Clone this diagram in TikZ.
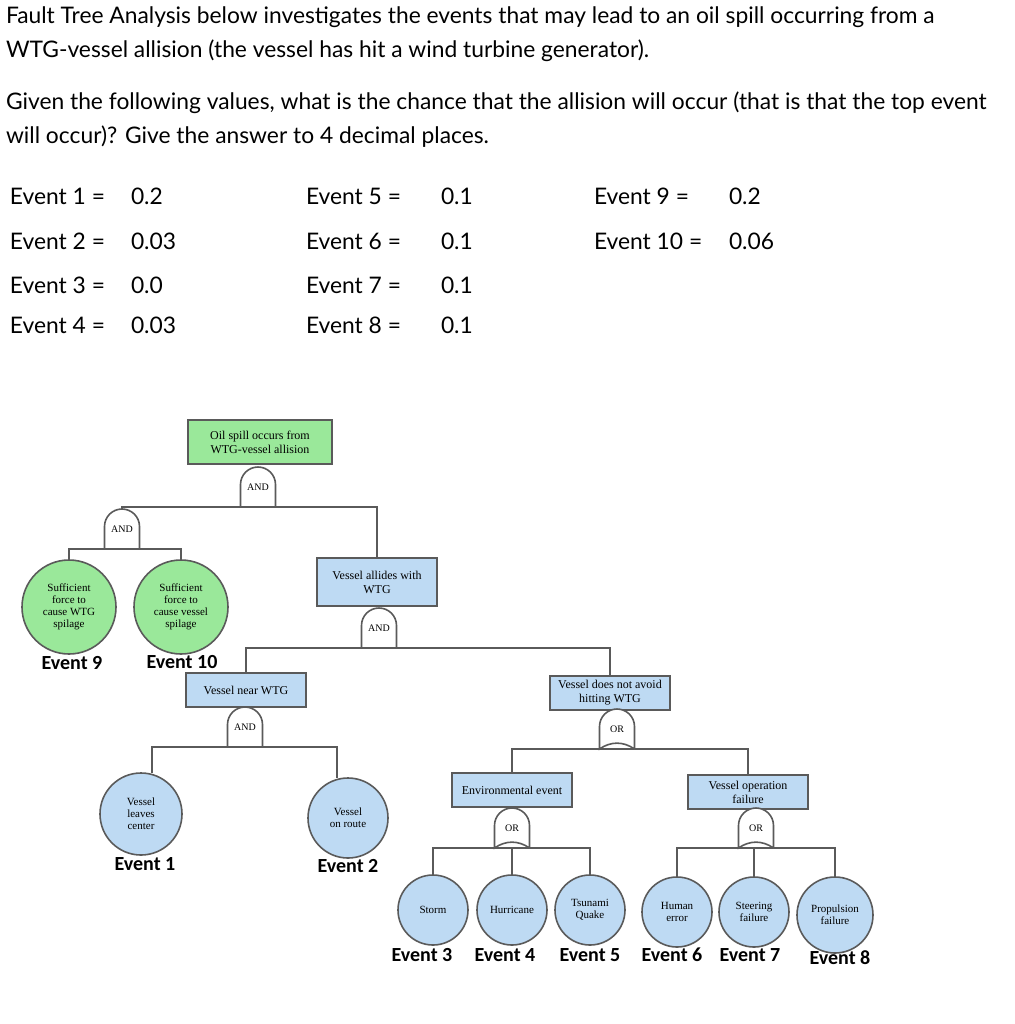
\documentclass[tikz,border=0pt]{standalone}
\usepackage{fontspec}
\setmainfont{Lato}
\newfontfamily\boxfont{Liberation Serif}
\newfontfamily\evfont{Carlito}
\usetikzlibrary{positioning}

\definecolor{boxgreen}{RGB}{154,232,154}
\definecolor{boxblue}{RGB}{190,218,243}
\definecolor{linegray}{RGB}{90,90,90}

% gate outlines around a gate node
\newcommand{\andshape}[1]{\draw[linegray,thick,fill=white] (#1.south east) -- ++(0,11.25pt) arc[start angle=0,end angle=180,radius=8.75pt] -- (#1.south west) -- cycle;}
\newcommand{\orshape}[1]{\draw[linegray,thick,fill=white] (#1.south east) -- ++(0,11.25pt) arc[start angle=0,end angle=180,radius=8.75pt] -- (#1.south west) to[bend left=35] (#1.south east);}

\begin{document}
\begin{tikzpicture}
[x=0.5pt,y=-0.5pt,
 every node/.style={inner sep=0pt,outer sep=0pt},
 evbox/.style={rectangle,draw=linegray,thick,align=center,font=\boxfont\fontsize{6}{7}\selectfont,inner sep=2pt},
 top/.style={evbox,fill=boxgreen},
 mid/.style={evbox,fill=boxblue},
 basic/.style={circle,draw=linegray,thick,align=center,font=\boxfont\fontsize{5.5}{6}\selectfont},
 gbasic/.style={basic,fill=boxgreen},
 bbasic/.style={basic,fill=boxblue},
 gate/.style={minimum width=17.5pt,minimum height=20pt,font=\boxfont\fontsize{5}{6}\selectfont},
 evlabel/.style={font=\evfont\bfseries\fontsize{10}{12}\selectfont},
 txt/.style={anchor=west,font=\fontsize{11.4}{13}\selectfont},
 conn/.style={linegray,thick}]
\useasboundingbox (0,0) rectangle (1015,1024);

% question text
\node[txt] (q1) at (6,17)  {Fault Tree Analysis below investigates the events that may lead to an oil spill occurring from a};
\node[txt] (q2) at (6,51)  {WTG-vessel allision (the vessel has hit a wind turbine generator).};
\node[txt] (q3) at (6,103) {Given the following values, what is the chance that the allision will occur (that is that the top event};
\node[txt] (q4) at (6,137) {will occur)? Give the answer to 4 decimal places.};

% values
\node[txt] (e1) at (10,196)  {Event 1 =};  \node[txt] (v1) at (131,196)  {0.2};
\node[txt] (e2) at (10,241)  {Event 2 =};  \node[txt] (v2) at (131,241)  {0.03};
\node[txt] (e3) at (10,285)  {Event 3 =};  \node[txt] (v3) at (131,285)  {0.0};
\node[txt] (e4) at (10,325)  {Event 4 =};  \node[txt] (v4) at (131,325)  {0.03};
\node[txt] (e5) at (306,196) {Event 5 =};  \node[txt] (v5) at (441,196)  {0.1};
\node[txt] (e6) at (306,241) {Event 6 =};  \node[txt] (v6) at (441,241)  {0.1};
\node[txt] (e7) at (306,285) {Event 7 =};  \node[txt] (v7) at (441,285)  {0.1};
\node[txt] (e8) at (306,325) {Event 8 =};  \node[txt] (v8) at (441,325)  {0.1};
\node[txt] (e9) at (594,196) {Event 9 =};  \node[txt] (v9) at (729,196)  {0.2};
\node[txt] (e10) at (594,241) {Event 10 =}; \node[txt] (v10) at (729,241) {0.06};

% events and gates
\node[top,minimum width=72pt,minimum height=22pt] (spill) at (260,442) {Oil spill occurs from\\WTG-vessel allision};
\node[gate] (g0) at (258,487) {AND};
\node[gate] (gA) at (122,529) {AND};
\node[gbasic,minimum size=47pt] (c9)  at (69,607)  {Sufficient\\force to\\cause WTG\\spilage};
\node[gbasic,minimum size=47pt] (c10) at (181,607) {Sufficient\\force to\\cause vessel\\spilage};
\node[mid,minimum width=60pt,minimum height=24pt] (allide) at (377,582) {Vessel allides with\\WTG};
\node[gate] (gB) at (379,628) {AND};
\node[mid,minimum width=60pt,minimum height=17pt] (near) at (246,690) {Vessel near WTG};
\node[gate] (gC) at (245,727) {AND};
\node[bbasic,minimum size=41pt] (c1) at (141,814) {Vessel\\leaves\\center};
\node[bbasic,minimum size=40pt] (c2) at (348,818) {Vessel\\on route};
\node[mid,minimum width=60pt,minimum height=17pt] (avoid) at (610,693) {Vessel does not avoid\\hitting WTG};
\node[gate] (gD) at (617,729) {OR};
\node[mid,minimum width=60pt,minimum height=17pt] (env) at (512,790) {Environmental event};
\node[gate] (gE) at (512,828) {OR};
\node[mid,minimum width=60pt,minimum height=17pt] (oper) at (748,792) {Vessel operation\\failure};
\node[gate] (gF) at (756,828) {OR};
\node[bbasic,minimum size=35pt] (c3) at (433,910) {Storm};
\node[bbasic,minimum size=35pt] (c4) at (512,910) {Hurricane};
\node[bbasic,minimum size=35pt] (c5) at (590,910) {Tsunami\\Quake};
\node[bbasic,minimum size=35pt] (c6) at (677,912) {Human\\error};
\node[bbasic,minimum size=35pt] (c7) at (754,912) {Steering\\failure};
\node[bbasic,minimum size=38pt] (c8) at (835,915) {Propulsion\\failure};

% connectors
\draw[conn] (g0.south) -| (gA.north);
\draw[conn] (g0.south) -| (allide.north);
\draw[conn] (gA.south) -| (c9.north);
\draw[conn] (gA.south) -| (c10.north);
\draw[conn] (gB.south) -| (near.north);
\draw[conn] (gB.south) -| (avoid.north);
\draw[conn] (gC.south) -| ([xshift=5.5pt]c1.north);
\draw[conn] (gC.south) -| ([xshift=-5.5pt]c2.north);
\draw[conn] (gD.south) -| (env.north);
\draw[conn] (gD.south) -| (oper.north);
\draw[conn] (gE.south) -| (c3.north);
\draw[conn] (gE.south) -- (c4.north);
\draw[conn] (gE.south) -| (c5.north);
\draw[conn] (gF.south) -| (c6.north);
\draw[conn] (gF.south) -| (c7.north);
\draw[conn] (gF.south) -| (c8.north);

% gate outlines
\andshape{g0} \andshape{gA} \andshape{gB} \andshape{gC}
\orshape{gD} \orshape{gE} \orshape{gF}
\node[gate] at (g0) {AND}; \node[gate] at (gA) {AND};
\node[gate] at (gB) {AND}; \node[gate] at (gC) {AND};
\node[gate] at (gD) {OR};  \node[gate] at (gE) {OR};  \node[gate] at (gF) {OR};

% event labels
\node[evlabel] (l9)  at (72,663)  {Event 9};
\node[evlabel] (l10) at (182,662) {Event 10};
\node[evlabel] (l1)  at (145,864) {Event 1};
\node[evlabel] (l2)  at (348,866) {Event 2};
\node[evlabel] (l3)  at (422,955) {Event 3};
\node[evlabel] (l4)  at (505,955) {Event 4};
\node[evlabel] (l5)  at (590,955) {Event 5};
\node[evlabel] (l6)  at (672,955) {Event 6};
\node[evlabel] (l7)  at (750,955) {Event 7};
\node[evlabel] (l8)  at (840,958) {Event 8};
\end{tikzpicture}
\end{document}
